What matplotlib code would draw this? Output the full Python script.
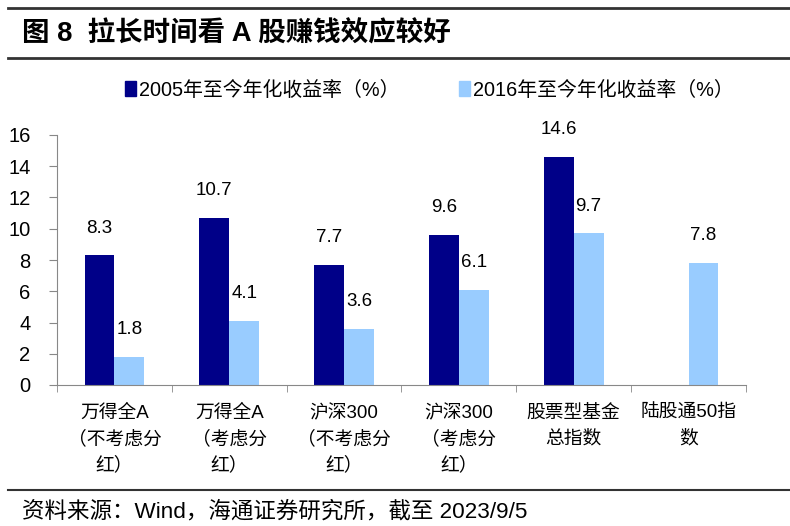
import matplotlib
matplotlib.use("Agg")
import matplotlib.pyplot as plt
import numpy as np
from matplotlib.lines import Line2D
from matplotlib.patches import Rectangle

plt.rcParams['font.family'] = ['Liberation Sans', 'Noto Sans CJK SC']

categories = ["万得全A\n（不考虑分\n红）", "万得全A\n（考虑分\n红）", "沪深300\n（不考虑分\n红）",
              "沪深300\n（考虑分\n红）", "股票型基金\n总指数", "陆股通50指\n数"]
s2005 = [8.3, 10.7, 7.7, 9.6, 14.6, None]
s2016 = [1.8, 4.1, 3.6, 6.1, 9.7, 7.8]
series_names = ["2005年至今年化收益率（%）", "2016年至今年化收益率（%）"]
yticks = [0, 2, 4, 6, 8, 10, 12, 14, 16]
title = "图 8  拉长时间看 A 股赚钱效应较好"
source = "资料来源：Wind，海通证券研究所，截至 2023/9/5"

dark = "#000088"
light = "#99CCFF"

fig = plt.figure(figsize=(7.9, 5.26), dpi=100)
W, H = 790, 526
ax = fig.add_axes([57/W, 1-385/H, (746-57)/W, (385-135)/H])

x = np.arange(len(categories))
bw = 0.26
for i in range(len(categories)):
    if s2005[i] is not None:
        ax.bar(x[i]-bw/2, s2005[i], bw, color=dark)
        ax.text(x[i]-bw/2, s2005[i]+1.2, f"{s2005[i]:.1f}", ha='center', va='bottom', fontsize=13.5)
    ax.bar(x[i]+bw/2, s2016[i], bw, color=light)
    ax.text(x[i]+bw/2, s2016[i]+1.2, f"{s2016[i]:.1f}", ha='center', va='bottom', fontsize=13.5)

ax.set_xlim(-0.5, len(categories)-0.5)
ax.set_ylim(0, 16)
ax.set_yticks(yticks)
ax.set_yticklabels([str(v) for v in yticks], fontsize=14.5)
ax.set_xticks(x)
ax.set_xticklabels(categories, fontsize=13.5, linespacing=1.6, va='top')
ax.tick_params(axis='x', which='major', length=0, pad=14)
ax.set_xticks(np.arange(-0.5, len(categories)), minor=True)
ax.tick_params(axis='x', which='minor', length=5, color='#888888', direction='out')
ax.tick_params(axis='y', length=6, color='#888888', direction='out', pad=13)
for s in ['top', 'right']:
    ax.spines[s].set_visible(False)
for s in ['left', 'bottom']:
    ax.spines[s].set_color('#888888')

# legend
leg_handles = [Rectangle((0, 0), 1, 1, color=dark), Rectangle((0, 0), 1, 1, color=light)]
fig.legend(leg_handles, series_names, loc='center', bbox_to_anchor=(429/W, 1-90/H), ncol=2,
           frameon=False, fontsize=14.3, handlelength=0.55, handleheight=0.75, handletextpad=0.15,
           columnspacing=3.0)

# title and rules
fig.text(22/W, 1-34/H, title, fontsize=19.8, fontweight='bold', va='center', ha='left')
for yy, lw in [(8, 2), (58, 2), (490, 1.5)]:
    fig.add_artist(Line2D([8/W, 790/W], [1-yy/H, 1-yy/H], color='#333333', lw=lw))
fig.text(22/W, 1-512/H, source, fontsize=16.2, va='center', ha='left')

fig.savefig("out.png", dpi=100)
